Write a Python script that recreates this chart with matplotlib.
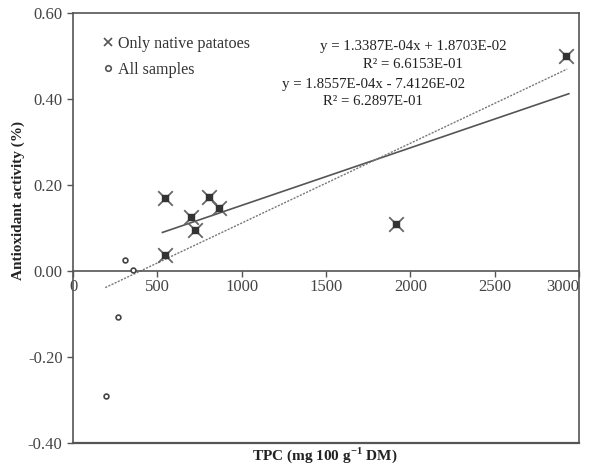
import matplotlib
matplotlib.use("Agg")
import matplotlib.pyplot as plt
import numpy as np
from matplotlib.lines import Line2D

plt.rcParams['font.family'] = ['Liberation Serif', 'DejaVu Serif']

# Native potatoes only
native_tpc = [543, 698, 724, 805, 865, 543, 1914, 2922]
native_aa = [0.170, 0.126, 0.096, 0.171, 0.146, 0.038, 0.110, 0.499]
# Additional samples (all samples = native + these)
other_tpc = [306, 354, 266, 197]
other_aa = [0.026, 0.003, -0.108, -0.291]

# Trendline coefficients (slope, intercept)
fit_native = (1.3387e-04, 1.8703e-02)
fit_all = (1.8557e-04, -7.4126e-02)
eq_native = ["y = 1.3387E-04x + 1.8703E-02", "R² = 6.6153E-01"]
eq_all = ["y = 1.8557E-04x - 7.4126E-02", "R² = 6.2897E-01"]

xticks = [0, 500, 1000, 1500, 2000, 2500, 3000]
yticks = [-0.40, -0.20, 0.00, 0.20, 0.40, 0.60]

fig = plt.figure(figsize=(5.89, 4.67), dpi=100)
ax = fig.add_axes([0.124, 0.0514, 0.859, 0.9208])
ax.set_xlim(0, 3000)
ax.set_ylim(-0.4, 0.6)

line_col = '#555555'
# Trendlines
xn = np.array([530, 2940])
ax.plot(xn, fit_native[0] * xn + fit_native[1], color=line_col, lw=1.2, zorder=2)
all_tpc = native_tpc + other_tpc
xa = np.array([min(all_tpc) - 6, 2930])
ax.plot(xa, fit_all[0] * xa + fit_all[1], color='#777777', lw=1.0,
        linestyle=(0, (1.5, 1.0)), zorder=2)

# Markers
ax.scatter(native_tpc, native_aa, marker='x', s=110, color='#666666', linewidths=1.3, zorder=3)
ax.scatter(native_tpc, native_aa, marker='s', s=16, color='#333333', zorder=4)
ax.scatter(other_tpc, other_aa, marker='o', s=12, facecolors='white',
           edgecolors='#444444', linewidths=1.2, zorder=3)

# Spines
for s in ['top', 'right', 'left']:
    ax.spines[s].set_color('#555555')
    ax.spines[s].set_linewidth(1.2)
ax.spines['bottom'].set_position(('data', 0))
ax.spines['bottom'].set_color('#555555')
ax.spines['bottom'].set_linewidth(1.2)
ax.axhline(-0.4, color='#555555', lw=1.6, clip_on=False)

ax.set_xticks(xticks)
ax.set_xticklabels([str(v) for v in xticks])
ax.set_yticks(yticks)
ax.set_yticklabels([f"{v:.2f}" for v in yticks])
ax.tick_params(axis='both', colors='#555555', labelcolor='#444444', labelsize=12,
               direction='out', length=4, width=1.0)
ax.tick_params(axis='x', pad=2)
for lbl in ax.get_xticklabels():
    if lbl.get_text() == '3000':
        lbl.set_horizontalalignment('right')
        lbl.set_x(1.0)

ax.set_ylabel("Antioxidant activity (%)", fontsize=11, fontweight='bold', color='#222222', labelpad=4)
ax.yaxis.set_label_coords(-0.094, 0.565)
fig.text(0.552, 0.025, "TPC (mg 100 g$^{\\mathregular{-1}}$ DM)", fontsize=11, fontweight='bold',
         color='#222222', ha='center', va='center')

# Legend
handles = [Line2D([], [], marker='x', linestyle='none', color='#555555', markersize=6, markeredgewidth=1.2),
           Line2D([], [], marker='o', linestyle='none', markerfacecolor='white',
                  markeredgecolor='#555555', markersize=4, markeredgewidth=1.2)]
leg = ax.legend(handles, ["Only native patatoes", "All samples"], loc='upper left',
                bbox_to_anchor=(0.03, 0.98), frameon=False, fontsize=11.6,
                handlelength=0.6, handletextpad=0.35, labelspacing=0.6)
for t in leg.get_texts():
    t.set_color('#333333')

# Equations
fs_eq = 10.7
ax.text(0.672, 0.922, eq_native[0], transform=ax.transAxes, ha='center', va='center', fontsize=fs_eq, color='#222222')
ax.text(0.672, 0.880, eq_native[1], transform=ax.transAxes, ha='center', va='center', fontsize=fs_eq, color='#222222')
ax.text(0.593, 0.834, eq_all[0], transform=ax.transAxes, ha='center', va='center', fontsize=fs_eq, color='#222222')
ax.text(0.593, 0.795, eq_all[1], transform=ax.transAxes, ha='center', va='center', fontsize=fs_eq, color='#222222')

fig.savefig("out.png", dpi=100)
